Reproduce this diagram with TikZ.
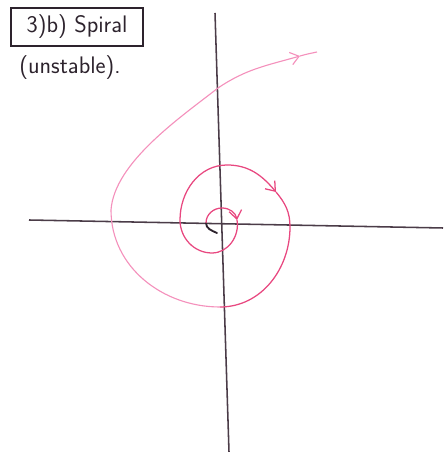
\documentclass[tikz,border=0pt]{standalone}
\usetikzlibrary{arrows.meta}
\definecolor{axisgray}{RGB}{75,60,72}
\definecolor{inkdark}{RGB}{45,35,45}
\definecolor{spiralpink}{RGB}{232,72,128}
\definecolor{spirallight}{RGB}{244,145,188}
\begin{document}
\begin{tikzpicture}[
      x=0.025cm, y=0.025cm,
      axis/.style={draw=axisgray, line width=1.1pt},
      startstroke/.style={draw=inkdark, line width=1.3pt, line cap=round},
      loopinner/.style={draw=spiralpink, line width=0.9pt},
      loopouter/.style={draw=spirallight, line width=0.8pt},
      >={Straight Barb[length=6pt, width=9pt]},
      every node/.style={font=\sffamily\fontsize{17}{20}\selectfont, text=inkdark}
    ]
      \useasboundingbox (0,0) rectangle (443,452);
      \node[draw=inkdark, line width=1pt, minimum width=3.3cm, minimum height=0.95cm] (title) at (77,425) {3)b) Spiral};
      \node (subtitle) at (70,384) {(unstable).};
      \coordinate (xl) at (29,232);
      \coordinate (xr) at (443,224);
      \coordinate (yt) at (215,439);
      \coordinate (yb) at (229,0);
      \draw[axis] (xl) -- (xr);
      \draw[axis] (yt) -- (yb);
      \coordinate (s0) at (217,219);
      \coordinate (s1) at (206,229);
      \coordinate (s2) at (222,244);
      \coordinate (a1) at (237,232);
      \coordinate (s4) at (212,199);
      \coordinate (s5) at (180,232);
      \coordinate (s6) at (227,287);
      \coordinate (a2) at (276,260);
      \coordinate (s7) at (290,225);
      \coordinate (s8) at (220,145);
      \coordinate (s9) at (111,242);
      \coordinate (s12) at (218,364);
      \coordinate (a3) at (300,396);
      \coordinate (send) at (317,400);
      \draw[startstroke] (s0) to[out=155, in=-90] (s1);
      \draw[loopinner, ->] (s1) to[out=90, in=180] (s2) to[out=0, in=100] (a1);
      \draw[loopinner] (a1) to[out=-80, in=0] (s4) to[out=180, in=-90] (s5)
        to[out=90, in=180] (s6);
      \draw[loopinner, ->] (s6) to[out=0, in=130] (a2);
      \draw[loopinner] (a2) to[out=-50, in=90] (s7) to[out=-90, in=0] (s8);
      \draw[loopouter] (s8) to[out=180, in=-90] (s9)
        to[out=86, in=218, looseness=0.75] (s12);
      \draw[loopouter, ->] (s12) to[out=34, in=196] (a3);
      \draw[loopouter] (a3) to[out=16, in=192] (send);
    \end{tikzpicture}
\end{document}
